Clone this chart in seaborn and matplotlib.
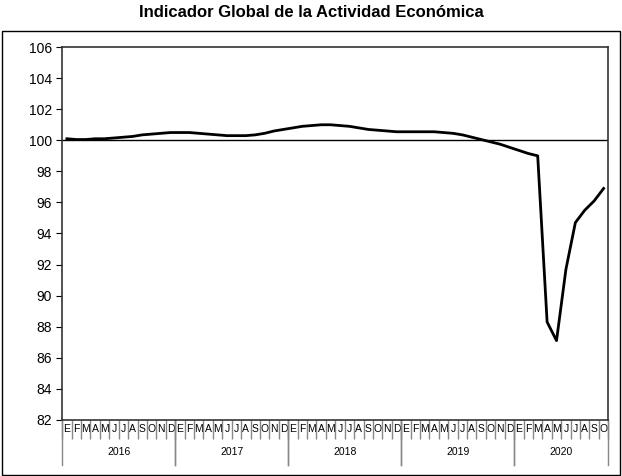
import matplotlib
matplotlib.use("Agg")
import matplotlib.pyplot as plt
import seaborn as sns
import numpy as np
import pandas as pd

years = ["2016", "2017", "2018", "2019", "2020"]
month_letters = ["E", "F", "M", "A", "M", "J", "J", "A", "S", "O", "N", "D"]
values = [
    100.1, 100.05, 100.05, 100.1, 100.1, 100.15, 100.2, 100.25, 100.35, 100.4, 100.45, 100.5,
    100.5, 100.5, 100.45, 100.4, 100.35, 100.3, 100.3, 100.3, 100.35, 100.45, 100.6, 100.7,
    100.8, 100.9, 100.95, 101.0, 101.0, 100.95, 100.9, 100.8, 100.7, 100.65, 100.6, 100.55,
    100.55, 100.55, 100.55, 100.55, 100.5, 100.45, 100.35, 100.2, 100.05, 99.9, 99.75, 99.55,
    99.35, 99.15, 99.0, 88.3, 87.1, 91.7, 94.7, 95.5, 96.1, 96.9,
]
baseline = 100
n = len(values)
labels = [month_letters[i % 12] for i in range(n)]
df = pd.DataFrame({"x": np.arange(n), "y": values})

plt.rcParams["font.family"] = ["Liberation Sans", "DejaVu Sans"]
fig = plt.figure(figsize=(6.22, 4.76), dpi=100)
ax = fig.add_axes([0.1, 0.118, 0.878, 0.783])
sns.lineplot(data=df, x="x", y="y", ax=ax, color="black", linewidth=2)
ax.axhline(baseline, color="black", linewidth=1)
ax.set_xlim(-0.5, n - 0.5)
ax.set_ylim(82, 106)
ax.set_yticks(np.arange(82, 107, 2))
ax.tick_params(axis="y", labelsize=10, length=4, direction="out")
ax.set_xticks(np.arange(n))
ax.set_xticklabels(labels, fontsize=7.5)
ax.tick_params(axis="x", which="major", length=0, pad=3)
ax.set_xticks(np.arange(n + 1) - 0.5, minor=True)
ax.tick_params(axis="x", which="minor", length=14, color="#888888", width=1)
ax.set_xlabel("")
ax.set_ylabel("")
for s in ax.spines.values():
    s.set_color("#333333")
    s.set_linewidth(1.2)
for k, yr in enumerate(years):
    start = k * 12 - 0.5
    end = min((k + 1) * 12, n) - 0.5
    ax.text((start + end) / 2, -0.085, yr, transform=ax.get_xaxis_transform(),
            ha="center", va="center", fontsize=7.5)
    for xb in (start, end):
        ax.plot([xb, xb], [0, -0.12], transform=ax.get_xaxis_transform(),
                color="#888888", linewidth=1, clip_on=False)
fig.suptitle("Indicador Global de la Actividad Económica", fontsize=12,
             fontweight="bold", y=0.99)
fig.patches.append(plt.Rectangle((0.003, 0.003), 0.994, 0.932, transform=fig.transFigure,
                                 fill=False, edgecolor="black", linewidth=1))
fig.savefig("out.png", dpi=100)
